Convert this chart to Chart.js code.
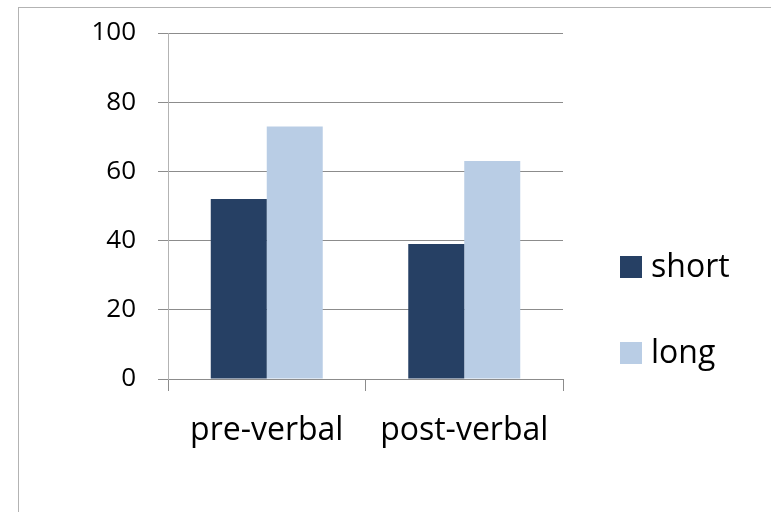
<!DOCTYPE html>
<html>
<head>
<meta charset="utf-8">
<script src="https://cdn.jsdelivr.net/npm/chart.js@4/dist/chart.umd.min.js"></script>
<style>
  html, body { margin: 0; padding: 0; background: #fff; }
  #wrap { position: relative; width: 771px; height: 512px; overflow: hidden; }
  #frame { position: absolute; left: 18px; top: 7px; width: 800px; height: 600px; border: 1px solid #b3b3b3; }
  canvas { position: absolute; left: 0; top: 0; }
</style>
</head>
<body>
<div id="wrap">
  <div id="frame"></div>
  <canvas id="chart1" width="771" height="512"></canvas>
</div>
<script>
var categories = ["pre-verbal", "post-verbal"];
var shortValues = [52, 39];
var longValues = [73, 63];
var yTicks = [0, 20, 40, 60, 80, 100];

var FONT = "'Open Sans', sans-serif";

// legend drawn to the right of the plot, like the original
var sideLegend = {
  id: "sideLegend",
  afterDraw: function (chart) {
    var ctx = chart.ctx;
    var boxTops = [256, 342];
    ctx.save();
    chart.data.datasets.forEach(function (ds, i) {
      var y = boxTops[i];
      ctx.fillStyle = ds.backgroundColor;
      ctx.fillRect(620, y, 22, 22);
      ctx.fillStyle = "#000";
      ctx.font = "32px " + FONT;
      ctx.textBaseline = "alphabetic";
      ctx.fillText(ds.label, 651, y + 21);
    });
    ctx.restore();
  },
};

var ctx = document.getElementById("chart1");
var myChart = new Chart(ctx, {
  type: "bar",
  data: {
    labels: categories,
    datasets: [
      {
        label: "short",
        data: shortValues,
        backgroundColor: "#264064",
        borderWidth: 0,
      },
      {
        label: "long",
        data: longValues,
        backgroundColor: "#b9cde5",
        borderWidth: 0,
      },
    ],
  },
  options: {
    responsive: false,
    animation: false,
    layout: {
      padding: { left: 0, top: 33, right: 208, bottom: 0 },
    },
    datasets: {
      bar: { barPercentage: 1, categoryPercentage: 0.567 },
    },
    plugins: {
      legend: { display: false },
      tooltip: { enabled: false },
    },
    scales: {
      x: {
        grid: {
          offset: true,
          drawOnChartArea: false,
          tickLength: 12,
          color: "#8c8c8c",
        },
        border: { color: "#8c8c8c" },
        ticks: {
          color: "#000",
          font: { family: FONT, size: 32 },
          padding: 21,
        },
        afterFit: function (s) {
          s.height = 133;
          s.paddingLeft = 0;
          s.paddingRight = 0;
        },
      },
      y: {
        min: 0,
        max: 100,
        afterBuildTicks: function (s) {
          s.ticks = yTicks.map(function (v) { return { value: v }; });
        },
        grid: {
          color: "#8c8c8c",
          tickLength: 10,
        },
        border: { color: "#b3b3b3" },
        ticks: {
          color: "#000",
          font: { family: FONT, size: 26 },
          padding: 22,
        },
        afterFit: function (s) {
          s.width = 168;
          s.paddingTop = 0;
          s.paddingBottom = 0;
        },
      },
    },
  },
  plugins: [sideLegend],
});
</script>
</body>
</html>
